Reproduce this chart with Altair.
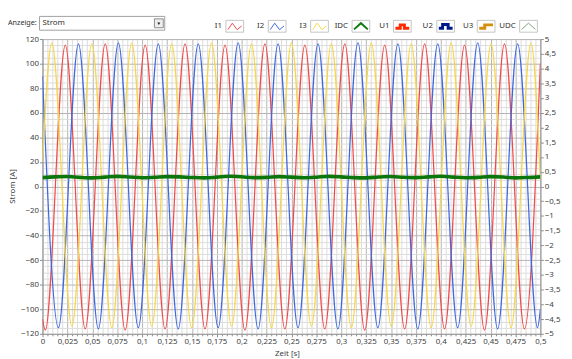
import altair as alt
import pandas as pd

# ---------------- data ----------------
series_names = ["I1", "I2", "I3"]
series_colors = ["#f24a4a", "#3f68e0", "#f7d545"]
idc_color = "#0c760c"

# extrema of the three phase currents (time [s], current [A])
t_i1 = [0, 0.0028, 0.0229, 0.0429, 0.0630, 0.0830, 0.1031, 0.1231, 0.1432, 0.1632, 0.1833,
        0.2033, 0.2234, 0.2434, 0.2635, 0.2835, 0.3036, 0.3236, 0.3437, 0.3637, 0.3838,
        0.4038, 0.4239, 0.4439, 0.4640, 0.4840, 0.5]
v_i1 = [-108, -117, 115, -116, 116, -117, 115, -116, 116, -116, 115, -117, 116, -116, 115,
        -116, 116, -117, 115, -116, 116, -116, 115, -117, 116, -116, 100]

t_i2 = [0, 0.0160, 0.0361, 0.0561, 0.0762, 0.0962, 0.1163, 0.1363, 0.1564, 0.1764, 0.1965,
        0.2165, 0.2366, 0.2566, 0.2767, 0.2967, 0.3168, 0.3368, 0.3569, 0.3769, 0.3970,
        0.4170, 0.4371, 0.4571, 0.4772, 0.4972, 0.5]
v_i2 = [90, -115, 116, -116, 117, -115, 116, -116, 116, -115, 117, -116, 116, -115, 116,
        -116, 117, -115, 116, -116, 116, -115, 117, -116, 116, -115, -100]

t_i3 = [0, 0.0094, 0.0295, 0.0495, 0.0696, 0.0896, 0.1097, 0.1297, 0.1498, 0.1698, 0.1899,
        0.2099, 0.2300, 0.2500, 0.2701, 0.2901, 0.3102, 0.3302, 0.3503, 0.3703, 0.3904,
        0.4104, 0.4305, 0.4505, 0.4706, 0.4906, 0.5]
v_i3 = [20, 117, -114, 116, -115, 117, -114, 116, -115, 117, -114, 116, -115, 117, -114,
        116, -115, 117, -114, 116, -115, 117, -114, 116, -115, 117, 5]

t_idc = [0, 0.0125, 0.025, 0.0375, 0.05, 0.0625, 0.075, 0.0875, 0.1, 0.1125, 0.125, 0.1375,
         0.15, 0.1625, 0.175, 0.1875, 0.2, 0.2125, 0.225, 0.2375, 0.25, 0.2625, 0.275, 0.2875,
         0.3, 0.3125, 0.325, 0.3375, 0.35, 0.3625, 0.375, 0.3875, 0.4, 0.4125, 0.425, 0.4375,
         0.45, 0.4625, 0.475, 0.4875, 0.5]
v_idc = [7.2, 7.8, 8.1, 7.4, 7.0, 7.6, 8.2, 7.7, 7.1, 7.5, 8.0, 7.8, 7.3, 7.0, 7.6, 8.3, 7.9,
         7.2, 7.4, 8.0, 7.6, 7.1, 7.5, 8.2, 7.8, 7.2, 7.0, 7.7, 8.1, 7.5, 7.2, 7.8, 8.3, 7.6,
         7.1, 7.4, 8.0, 7.7, 7.0, 7.3, 7.8]

# axis ticks
x_ticks = [round(i * 0.005, 3) for i in range(101)]
y_ticks = list(range(-120, 121, 5))
u_ticks = [round(-5 + i * 0.5, 1) for i in range(21)]
u_domain = [-5, 5]

legend_names = ["I1", "I2", "I3", "IDC", "U1", "U2", "U3", "UDC"]
legend_colors = ["#f24a4a", "#3f68e0", "#f7d545", "#117a11", "#ff2a00", "#001a8c", "#d4900a", "#7fa07f"]

# ---------------- build chart ----------------
rows = []
for name, ts, vs in [("I1", t_i1, v_i1), ("I2", t_i2, v_i2), ("I3", t_i3, v_i3)]:
    for t, v in zip(ts, vs):
        rows.append({"series": name, "t": t, "v": v})
df = pd.DataFrame(rows)
df_idc = pd.DataFrame({"t": t_idc, "v": v_idc})

FONT = "Noto Sans"
GRID_MAJOR = "#b4b4b4"
GRID_MINOR = "#dcdcdc"

x_major = "abs(datum.value*40 - round(datum.value*40)) < 0.01"
y_major = "abs(datum.value % 20) < 0.01"

x_axis = alt.Axis(
    values=x_ticks, title="Zeit [s]",
    labelExpr=f"({x_major}) ? replace(format(datum.value, '~g'), '.', ',') : ''",
    gridColor={"condition": {"test": x_major, "value": GRID_MAJOR}, "value": GRID_MINOR},
    tickSize={"condition": {"test": x_major, "value": 3}, "value": 2},
    tickColor="#8a8a8a", domainColor="#9a9a9a", labelFont=FONT, labelFontSize=8,
    labelColor="#404040", labelPadding=1, labelFlush=False, labelOverlap=False,
    titleFont=FONT, titleFontSize=8, titleFontWeight="normal", titleColor="#404040",
    titleX=248, titleY=20, titleBaseline="middle", titleAlign="center",
)
y_axis = alt.Axis(
    values=y_ticks, title="Strom [A]",
    labelExpr=f"({y_major}) ? replace(format(datum.value, '~g'), '.', ',') : ''",
    gridColor={"condition": {"test": y_major, "value": GRID_MAJOR}, "value": GRID_MINOR},
    tickSize={"condition": {"test": y_major, "value": 3}, "value": 0},
    tickColor="#8a8a8a", domainColor="#9a9a9a", labelFont=FONT, labelFontSize=8,
    labelColor="#404040", labelPadding=1, labelOverlap=False, labelFlush=False,
    titleFont=FONT, titleFontSize=8, titleFontWeight="normal", titleColor="#404040",
    titleAngle=270, titleX=-30, titleY=149, titleBaseline="middle", titleAlign="center",
)

x_enc = alt.X("t:Q", scale=alt.Scale(domain=[0, 0.5], nice=False, zero=False), axis=x_axis)
y_enc = alt.Y("v:Q", scale=alt.Scale(domain=[-120, 120], nice=False), axis=y_axis)

phases = alt.Chart(df).mark_line(interpolate="monotone", clip=True, strokeWidth=1.25).encode(
    x=x_enc, y=y_enc,
    color=alt.Color("series:N", scale=alt.Scale(domain=series_names, range=series_colors), legend=None),
)
idc = alt.Chart(df_idc).mark_line(interpolate="monotone", clip=True, strokeWidth=3.6, color=idc_color).encode(
    x=x_enc, y=y_enc,
)
currents = alt.layer(phases, idc)

right = alt.Chart(pd.DataFrame({"u": u_domain})).mark_point(opacity=0).encode(
    x=alt.value(0),
    y=alt.Y("u:Q", scale=alt.Scale(domain=u_domain, nice=False),
            axis=alt.Axis(orient="right", values=u_ticks, grid=False, title=None,
                          labelExpr="replace(format(datum.value, '~g'), '.', ',')",
                          tickSize=3, tickColor="#8a8a8a", domainColor="#9a9a9a",
                          labelFont=FONT, labelFontSize=8, labelColor="#404040",
                          labelPadding=1, labelOverlap=False, labelFlush=False)),
)

one = pd.DataFrame({"a": [0]})
deco = []
# "Anzeige:" selector
deco.append(alt.Chart(one).mark_rect(fill="white", stroke="#a0a0a0", strokeWidth=1)
            .encode(x=alt.value(-3), x2=alt.value(124), y=alt.value(-23), y2=alt.value(-9)))
deco.append(alt.Chart(one).mark_text(align="left", baseline="middle", font=FONT, fontSize=7.3, color="#303030")
            .encode(x=alt.value(-35), y=alt.value(-16), text=alt.value("Anzeige:")))
deco.append(alt.Chart(one).mark_text(align="left", baseline="middle", font=FONT, fontSize=8, color="#303030")
            .encode(x=alt.value(0), y=alt.value(-16), text=alt.value("Strom")))
deco.append(alt.Chart(one).mark_rect(fill="#eeeeee", stroke="#8c8c8c", strokeWidth=1)
            .encode(x=alt.value(113.5), x2=alt.value(122.5), y=alt.value(-20.5), y2=alt.value(-11.5)))
deco.append(alt.Chart(one).mark_point(shape="triangle-down", filled=True, color="#222222", size=9, opacity=1)
            .encode(x=alt.value(118), y=alt.value(-15.5)))

# plot legend
box_left = [186, 229, 272, 314, 356, 400, 441, 484]
zig = "M-1,0.5 L-0.35,-0.45 L0.35,0.5 L1,-0.05"
hat = "M-1,0.45 L0,-0.45 L1,0.45"
step1 = "M-1,0.3 L-0.3,0.3 L-0.3,-0.2 L0.3,-0.2 L0.3,0.3 L1,0.3"
step2 = "M-1,0.3 L-0.45,0.3 L-0.45,-0.25 L0.35,-0.25 L0.35,0.3 L1,0.3"
step3 = "M-1,0.3 L-0.2,0.3 L-0.2,-0.2 L1,-0.2"
icons = [zig, zig, zig, hat, step1, step2, step3, hat]
widths = [1, 1, 1, 2, 3, 3, 3, 1]
for name, col, bl, shp, sw in zip(legend_names, legend_colors, box_left, icons, widths):
    deco.append(alt.Chart(one).mark_text(align="right", baseline="middle", font=FONT, fontSize=8, color="#303030")
                .encode(x=alt.value(bl - 4), y=alt.value(-13), text=alt.value(name)))
    deco.append(alt.Chart(one).mark_rect(fill="white", stroke="#c4c4c4", strokeWidth=1)
                .encode(x=alt.value(bl), x2=alt.value(bl + 18), y=alt.value(-19), y2=alt.value(-7)))
    deco.append(alt.Chart(one).mark_point(shape=shp, filled=False, stroke=col, strokeWidth=sw, size=196, opacity=1)
                .encode(x=alt.value(bl + 9), y=alt.value(-13)))

chart = alt.layer(currents, right, *deco).resolve_scale(y="independent").properties(
    width=505, height=299,
    autosize=alt.AutoSizeParams(type="none"),
    padding={"left": 35, "top": 29, "right": 24, "bottom": 23},
).configure_view(stroke="#a8a8a8").configure(background="white")

chart.save("out.html", embed_options={"renderer": "svg", "actions": False})
